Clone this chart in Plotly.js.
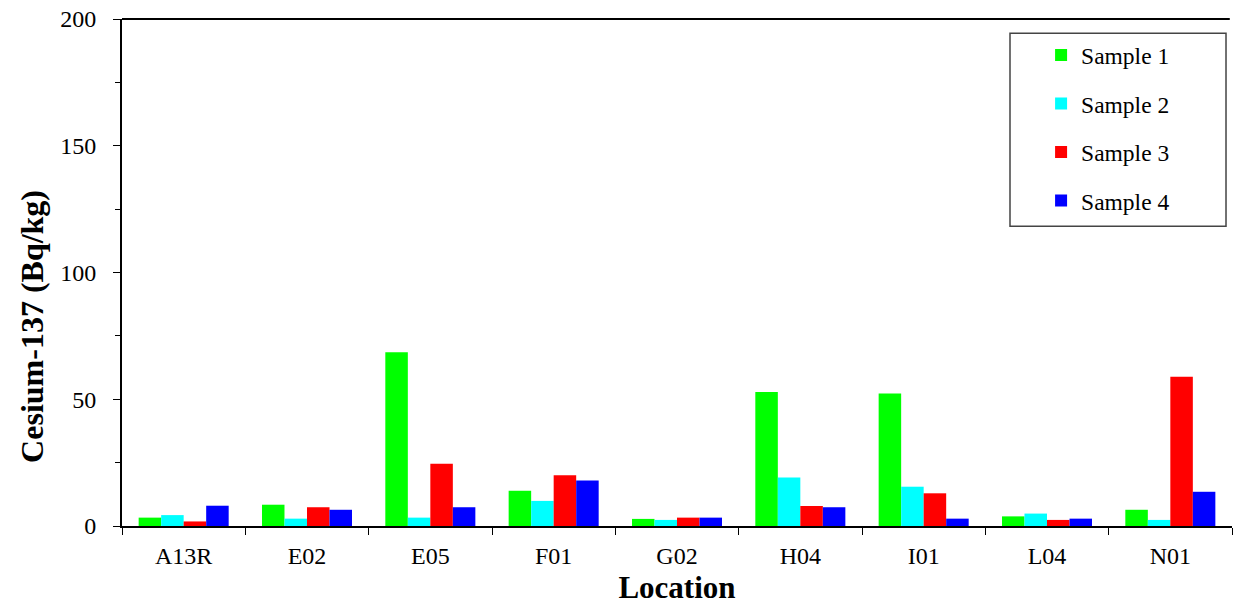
<!DOCTYPE html>
<html>
<head>
<meta charset="utf-8">
<script src="https://cdn.plot.ly/plotly-3.0.1.min.js"></script>
<style>html,body{margin:0;padding:0;background:#fff;}#chart{width:1233px;height:607px;}</style>
</head>
<body>
<div id="chart"></div>
<script>
const locations = ["A13R","E02","E05","F01","G02","H04","I01","L04","N01"];
const seriesNames = ["Sample 1","Sample 2","Sample 3","Sample 4"];
const sample1 = [3.3, 8.4, 68.5, 13.9, 2.8, 52.9, 52.3, 3.8, 6.4];
const sample2 = [4.3, 2.9, 3.3, 9.9, 2.4, 19.1, 15.5, 4.9, 2.4];
const sample3 = [1.8, 7.4, 24.6, 20.0, 3.3, 7.9, 12.9, 2.4, 58.9];
const sample4 = [8.0, 6.4, 7.4, 17.9, 3.3, 7.4, 2.9, 2.9, 13.5];
const colors = ["#00FF00","#00FFFF","#FF0000","#0000FF"];
const allSeries = [sample1, sample2, sample3, sample4];
const yTitle = "Cesium-137 (Bq/kg)";
const xTitle = "Location";

const traces = allSeries.map((vals, i) => ({
  type: "bar",
  x: locations,
  y: vals,
  name: seriesNames[i],
  legendgroup: "g" + i,
  marker: {color: colors[i], line: {width: 0}},
  hoverinfo: "x+y+name"
}));

const font = "Liberation Serif, Times New Roman, serif";
const layout = {
  width: 1233, height: 607,
  margin: {l: 122, r: 1, t: 19, b: 81},
  paper_bgcolor: "#fff", plot_bgcolor: "#fff",
  barmode: "group",
  bargap: 0.27,
  bargroupgap: 0,
  font: {family: font, color: "#000", size: 24},
  showlegend: true,
  legend: {
    x: 0.828, xanchor: "left", y: 0.972, yanchor: "top",
    font: {family: font, size: 23.5, color: "#000"},
    bgcolor: "rgba(0,0,0,0)", borderwidth: 0,
    tracegroupgap: 15
  },
  xaxis: {
    type: "category",
    showline: true, linecolor: "#000", linewidth: 2,
    mirror: false,
    ticks: "outside", tickson: "boundaries", ticklen: 7, tickcolor: "#000", tickwidth: 1,
    ticklabelstandoff: 7,
    tickfont: {family: font, size: 24, color: "#000"},
    title: {text: "<b>" + xTitle + "</b>", font: {family: font, size: 31, color: "#000"}, standoff: 9},
    showgrid: false, zeroline: false, fixedrange: true
  },
  yaxis: {
    range: [0, 200],
    dtick: 50, tick0: 0,
    showline: true, linecolor: "#000", linewidth: 2,
    ticks: "outside", ticklen: 7, tickcolor: "#000", tickwidth: 1,
    ticklabelstandoff: 12,
    minor: {dtick: 25, ticks: "outside", ticklen: 5, tickcolor: "#000", tickwidth: 1, showgrid: false},
    tickfont: {family: font, size: 24, color: "#000"},
    showgrid: false, zeroline: false, fixedrange: true
  },
  annotations: [
    {text: "<b>" + yTitle + "</b>", textangle: -90, xref: "paper", yref: "paper",
     x: -0.0805, y: 0.394, xanchor: "center", yanchor: "middle", showarrow: false,
     font: {family: font, size: 32, color: "#000"}}
  ],
  shapes: [
    {type: "line", xref: "paper", yref: "paper", x0: 0, x1: 0.998, y0: 1, y1: 1, line: {color: "#000", width: 2}},
    {type: "rect", xref: "paper", yref: "paper", x0: 0.8, x1: 0.9946, y0: 0.972, y1: 0.591, line: {color: "#444", width: 1.5}, fillcolor: "rgba(0,0,0,0)"}
  ]
};
Plotly.newPlot("chart", traces, layout, {displayModeBar: false, staticPlot: true});
</script>
</body>
</html>
